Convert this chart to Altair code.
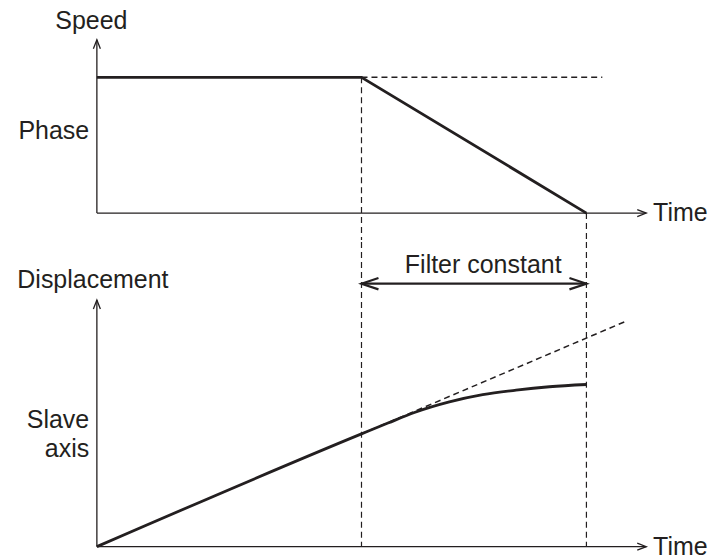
import altair as alt
import pandas as pd

# ---------------- data (diagram units) ----------------
# top panel: speed vs time
speed_t = [0.0, 5.0, 9.25]
speed_v = [1.0, 1.0, 0.0]
speed_ref_t = [5.0, 9.55]          # dashed continuation of constant speed
speed_ref_v = [1.0, 1.0]

# bottom panel: displacement vs time
disp_t = [0.0, 5.0, 5.5, 6.0, 6.66, 7.29, 7.92, 8.55, 9.25]
disp_v = [0.0, 5.0, 5.48, 5.95, 6.42, 6.74, 6.94, 7.09, 7.19]
disp_ref_t = [5.0, 10.0]           # dashed continuation of linear displacement
disp_ref_v = [5.0, 10.0]

filter_start, filter_end = 5.0, 9.25
time_axis_end = 10.38
speed_axis_top = 1.277
disp_axis_top = 10.94

top_labels = ["Speed", "Phase", "Time"]
top_label_t = [-0.104, -0.145, 10.51]
top_label_v = [1.357, 0.549, -0.057]
top_label_align = ["center", "right", "left"]

bot_labels = ["Displacement", "Filter constant", "Slave", "axis", "Time"]
bot_label_t = [-0.075, 7.30, -0.145, -0.145, 10.51]
bot_label_v = [11.47, 12.15, 5.24, 3.99, -0.376]
bot_label_align = ["center", "center", "right", "right", "left"]
filter_arrow_v = 11.66

# ---------------- layout ----------------
INK = "#231f20"
FONT = "Liberation Sans"
FS = 25
W = 700
TOP_H = 232
BOT_H = 317
PX_T = 53.0           # px per time unit
X0 = 89.0             # px (inside svg) of t = 0
PX_SPEED = 136.0      # px per speed unit
SPEED0 = 205.0        # px of speed 0 in top panel
PX_DISP = 22.58       # px per displacement unit
DISP0 = 537.0 - TOP_H # px of disp 0 in bottom panel

x_dom = [-X0 / PX_T, (W - X0) / PX_T]
s_dom = [-(TOP_H - SPEED0) / PX_SPEED, SPEED0 / PX_SPEED]
d_dom = [-(BOT_H - DISP0) / PX_DISP, DISP0 / PX_DISP]

xs = alt.Scale(domain=x_dom, nice=False, zero=False)
ss = alt.Scale(domain=s_dom, nice=False, zero=False)
ds = alt.Scale(domain=d_dom, nice=False, zero=False)

ARROW_S = "M-2,-0.78L0,0L-2,0.78"
ARROW_L = "M-2,-0.67L0,0L-2,0.67"


def X(f="t"):
    return alt.X(f"{f}:Q", scale=xs, axis=None)


def panel(scale, curve_df, ref_df, axis_top, labels_df, vert_df, interp,
          extra=None, height=100):
    Y = lambda f="v": alt.Y(f"{f}:Q", scale=scale, axis=None)
    layers = []
    # vertical dashed guides
    layers.append(alt.Chart(vert_df).mark_rule(
        color=INK, strokeWidth=1.2, strokeDash=[6, 4]
    ).encode(x=X(), y=Y("ya"), y2="yb:Q"))
    # dashed reference
    layers.append(alt.Chart(ref_df).mark_line(
        color=INK, strokeWidth=1.5, strokeDash=[6, 4]
    ).encode(x=X(), y=Y()))
    # axes
    ax = pd.DataFrame({"t": [0.0, 0.0], "v": [0.0, axis_top],
                       "t2": [time_axis_end, 0.0], "v2": [0.0, 0.0]})
    layers.append(alt.Chart(ax).mark_rule(color=INK, strokeWidth=1.3).encode(
        x=X(), y=Y(), x2="t2:Q", y2="v2:Q"))
    heads = pd.DataFrame({"t": [time_axis_end, 0.0], "v": [0.0, axis_top],
                          "ang": [0, 270]})
    layers.append(alt.Chart(heads).mark_point(
        shape=ARROW_S, size=81, filled=False, color=INK, strokeWidth=1.3,
        opacity=1, strokeJoin="miter"
    ).encode(x=X(), y=Y(), angle=alt.Angle("ang:Q", scale=None)))
    # main curve
    layers.append(alt.Chart(curve_df).mark_line(
        color=INK, strokeWidth=2.8, interpolate=interp, strokeJoin="miter"
    ).encode(x=X(), y=Y()))
    if extra is not None:
        layers += extra(Y)
    # labels
    for al in ["left", "center", "right"]:
        sub = labels_df[labels_df["align"] == al]
        if len(sub):
            layers.append(alt.Chart(sub).mark_text(
                font=FONT, fontSize=FS, color=INK, align=al,
                baseline="alphabetic"
            ).encode(x=X(), y=Y(), text="label:N"))
    return alt.layer(*layers).properties(width=W, height=height)


top_curve = pd.DataFrame({"t": speed_t, "v": speed_v})
top_ref = pd.DataFrame({"t": speed_ref_t, "v": speed_ref_v})
top_lab = pd.DataFrame({"label": top_labels, "t": top_label_t,
                        "v": top_label_v, "align": top_label_align})
top_vert = pd.DataFrame({"t": [filter_start, filter_end],
                         "ya": [1.0, 0.0], "yb": [s_dom[0], s_dom[0]]})

bot_curve = pd.DataFrame({"t": disp_t, "v": disp_v})
bot_ref = pd.DataFrame({"t": disp_ref_t, "v": disp_ref_v})
bot_lab = pd.DataFrame({"label": bot_labels, "t": bot_label_t,
                        "v": bot_label_v, "align": bot_label_align})
bot_vert = pd.DataFrame({"t": [filter_start, filter_end],
                         "ya": [d_dom[1], d_dom[1]], "yb": [0.0, 0.0]})


def filter_arrow(Y):
    fa = pd.DataFrame({"t": [filter_start], "v": [filter_arrow_v],
                       "t2": [filter_end]})
    fh = pd.DataFrame({"t": [filter_start, filter_end],
                       "v": [filter_arrow_v, filter_arrow_v],
                       "ang": [180, 0]})
    return [
        alt.Chart(fa).mark_rule(color=INK, strokeWidth=2.2).encode(
            x=X(), y=Y(), x2="t2:Q"),
        alt.Chart(fh).mark_point(
            shape=ARROW_L, size=289, filled=False, color=INK, strokeWidth=2.2,
            opacity=1, strokeJoin="miter"
        ).encode(x=X(), y=Y(), angle=alt.Angle("ang:Q", scale=None)),
    ]


top = panel(ss, top_curve, top_ref, speed_axis_top, top_lab, top_vert,
            "linear", height=TOP_H)
bot = panel(ds, bot_curve, bot_ref, disp_axis_top, bot_lab, bot_vert,
            "monotone", extra=filter_arrow, height=BOT_H)

chart = alt.vconcat(top, bot, spacing=0).properties(
    padding=0
).configure(background="white").configure_view(stroke=None)

chart.save("out.html", embed_options={"renderer": "svg", "actions": False})
